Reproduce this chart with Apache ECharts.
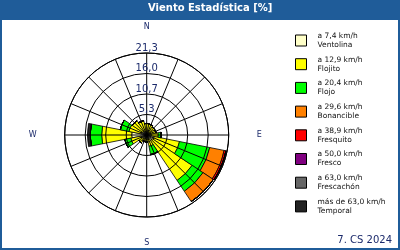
<!DOCTYPE html>
<html><head><meta charset="utf-8">
<script src="https://cdn.jsdelivr.net/npm/echarts@6/dist/echarts.min.js"></script>
<style>html,body{margin:0;padding:0;background:#fff}#c{width:400px;height:250px}</style>
</head><body><div id="c"></div>
<script>
// Directions (clockwise from North)
const directions = ['N','NNE','NE','ENE','E','ESE','SE','SSE','S','SSW','SW','WSW','W','WNW','NW','NNW'];
const compassShown = ['N','E','S','W'];
// Radius tick labels
const ringLabels = ['5,3','10,7','16,0','21,3'];
const radiusMax = 21.3;
const ringStep = 5.325;
// Wind class names and speed labels
const classNames = ['Ventolina','Flojito','Flojo','Bonancible','Fresquito','Fresco','Frescachón','Temporal'];
const speedLabels = ['a 7,4 km/h','a 12,9 km/h','a 20,4 km/h','a 29,6 km/h','a 38,9 km/h','a 50,0 km/h','a 63,0 km/h','más de 63,0 km/h'];
const classColors = ['#ffffc8','#ffff00','#00ff00','#ff8000','#ff0000','#800080','#666666','#222222'];
// Frequencies [%] per direction
const ventolina  = [0.8, 0.9, 0.8, 0.8, 1.2, 2.0, 1.8, 1.0, 1.2, 1.0, 1.2, 1.5, 3.9, 1.5, 1.2, 1.0];
const flojito    = [2.2, 2.0, 1.7, 1.7, 1.8, 6.7, 12.4, 2.0, 0.6, 0.8, 1.3, 2.7, 7.8, 3.2, 3.3, 2.8];
const flojo      = [0, 0, 0, 0, 0.8, 8.0, 3.4, 2.2, 0, 0, 0, 1.6, 3.0, 2.3, 0, 0];
const bonancible = [0, 0, 0, 0, 0, 3.8, 3.2, 0, 0, 0, 0, 0, 0, 0, 0, 0];
const fresquito  = [0, 0, 0, 0, 0, 0.5, 0, 0, 0, 0, 0, 0, 0, 0, 0, 0];
const fresco     = [0, 0, 0, 0, 0, 0, 0, 0, 0, 0, 0, 0, 0, 0, 0, 0];
const frescachon = [0, 0, 0, 0, 0, 0, 0, 0, 0, 0, 0, 0, 0, 0, 0, 0];
const temporal   = [0, 0, 0, 0, 0, 0, 0, 0, 0, 0, 0, 0, 0.7, 0, 0, 0];
const classData = [ventolina, flojito, flojo, bonancible, fresquito, fresco, frescachon, temporal];

const navy = '#1b2a6b';
const ch = echarts.init(document.getElementById('c'), null, {renderer:'canvas'});
const series = classNames.map((n, i) => ({
  name: n, type: 'bar', coordinateSystem: 'polar', polarIndex: 0, stack: 'w',
  barCategoryGap: '0%', data: classData[i], z: 2,
  itemStyle: {color: classColors[i], borderColor: '#000', borderWidth: 0.8},
  emphasis: {disabled: true}
}));
ch.setOption({
  animation: false,
  textStyle: {fontFamily: 'DejaVu Sans'},
  graphic: [
    {type:'rect', shape:{x:0,y:0,width:400,height:20}, style:{fill:'#1f5c99'}, z:0},
    {type:'rect', shape:{x:1,y:1,width:398,height:248}, style:{fill:'none', stroke:'#1f5c99', lineWidth:2}, z:0}
  ],
  title: [
    {text: 'Viento Estadística [%]', left: 148, top: 3, padding: 0,
     textStyle: {color:'#fff', fontSize: 10, fontWeight:'bold', fontFamily:'DejaVu Sans'}},
    {text: '7. CS 2024', right: 8, bottom: 5, padding: 0,
     textStyle: {color: navy, fontSize: 10, fontWeight:'normal', fontFamily:'DejaVu Sans'}}
  ],
  legend: {
    orient: 'vertical', left: 295, top: 27, padding: 0, itemGap: -3.3,
    itemWidth: 11, itemHeight: 11, icon: 'rect', selectedMode: false,
    itemStyle: {borderColor:'#000', borderWidth: 1},
    formatter: name => speedLabels[classNames.indexOf(name)] + '\n' + name,
    textStyle: {fontSize: 7.5, lineHeight: 9, color: '#111', padding: [9,0,0,6], fontFamily:'DejaVu Sans'},
    data: classNames
  },
  polar: [
    {center: [146.7, 135], radius: 82},
    {center: [146.7, 135], radius: 82}
  ],
  angleAxis: [
    {polarIndex: 0, type: 'category', data: directions, startAngle: 101.25, boundaryGap: true,
     axisLine: {show:false}, axisTick: {show:false}, splitLine: {show:false}, splitArea:{show:false},
     axisLabel: {interval: 0, margin: 22, color: navy, fontSize: 8,
       formatter: v => v === 'E' ? '{e|E}' : v === 'W' ? '{w|W}' : (compassShown.includes(v) ? v : ''),
       rich: {e: {padding: [0,0,0,6], color: navy, fontSize: 8}, w: {padding: [0,6,0,0], color: navy, fontSize: 8}}}},
    {polarIndex: 1, type: 'value', min: 0, max: 360, interval: 22.5, startAngle: 90, z: 10,
     axisLine: {show:true, lineStyle:{color:'#000', width:1}},
     axisTick: {show:false}, axisLabel: {show:false},
     splitLine: {show:true, lineStyle:{color:'#000', width:1}}}
  ],
  radiusAxis: [
    {polarIndex: 0, min: 0, max: radiusMax, show: false},
    {polarIndex: 1, min: 0, max: radiusMax, interval: ringStep, z: 10,
     axisLine: {show:false}, axisTick: {show:false},
     splitLine: {show:true, lineStyle:{color:'#000', width:1}},
     axisLabel: {show: true, margin: 0, align: 'center', verticalAlign: 'bottom', color: navy, fontSize: 10,
       showMinLabel: false, showMaxLabel: true,
       formatter: v => { const k = Math.round(v / ringStep) - 1; return k >= 0 ? ringLabels[k] : ''; }}}
  ],
  series: series
});
</script></body></html>
